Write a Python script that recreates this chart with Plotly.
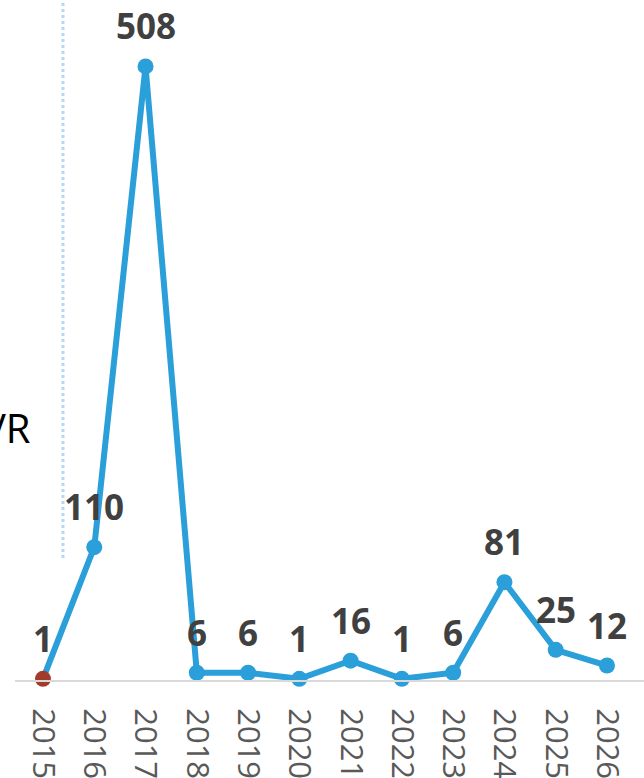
import plotly.graph_objects as go

years = [2015, 2016, 2017, 2018, 2019, 2020, 2021, 2022, 2023, 2024, 2025, 2026]
values = [1, 110, 508, 6, 6, 1, 16, 1, 6, 81, 25, 12]
labels = [str(v) for v in values]
tick_labels = [str(y) for y in years]

blue = "#2B9FD9"
red = "#A33B2C"
marker_colors = [red] + [blue] * (len(years) - 1)

fig = go.Figure()
fig.add_trace(go.Scatter(
    x=years, y=values, mode="lines+markers",
    line=dict(color=blue, width=6),
    marker=dict(color=marker_colors, size=16),
    cliponaxis=False, hoverinfo="skip", showlegend=False,
))

for xv, yv, t in zip(years, values, labels):
    fig.add_annotation(
        x=xv, y=yv, text=f"<b>{t}</b>", showarrow=False,
        yanchor="bottom", xanchor="center", yshift=15,
        font=dict(family="Open Sans, sans-serif", size=35, color="#404040"),
    )

# dotted vertical guide line
fig.add_shape(type="line", xref="x", yref="y", x0=2015.39, x1=2015.39,
              y0=101, y1=570, line=dict(color="#B5D8F8", width=3, dash="dot"))

fig.add_annotation(xref="paper", yref="paper", x=0.0286, y=(680 - 427) / 680,
                   text="VR", showarrow=False, xanchor="right", yanchor="middle",
                   font=dict(family="Open Sans, sans-serif", size=40, color="#000000"))

fig.update_layout(
    width=644, height=778,
    margin=dict(l=15, r=0, t=0, b=98),
    paper_bgcolor="white", plot_bgcolor="white",
    xaxis=dict(
        range=[2014.454, 2026.722], tickmode="array", tickvals=years, ticktext=tick_labels,
        tickangle=90, showgrid=False, zeroline=False, showline=True,
        linecolor="#D9D9D9", linewidth=2, ticks="",
        ticklabelstandoff=20,
        tickfont=dict(family="Open Sans, sans-serif", size=31, color="#595959"),
    ),
    yaxis=dict(range=[0, 563], visible=False, showgrid=False, zeroline=False),
)

fig.write_html("out.html", config={"displayModeBar": False},
               post_script="document.body.style.margin='0';")
